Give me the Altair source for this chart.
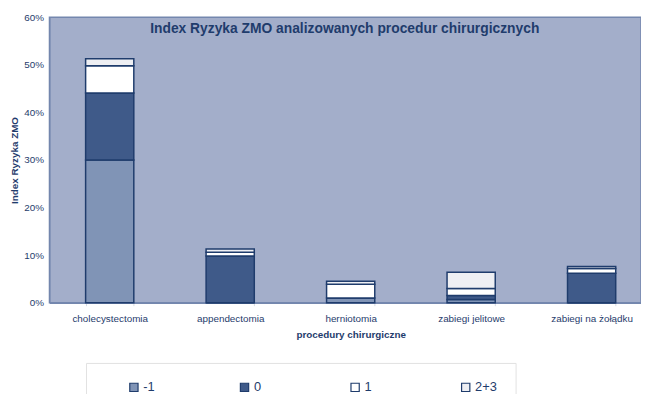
import altair as alt
import pandas as pd

procedures = ["cholecystectomia", "appendectomia", "herniotomia", "zabiegi jelitowe", "zabiegi na żołądku"]
series_names = ["-1", "0", "1", "2+3"]
v_m1 = [30.0, 0.0, 1.0, 0.7, 0.0]
v_0 = [14.1, 9.8, 0.0, 0.8, 6.2]
v_1 = [5.7, 0.8, 2.9, 1.5, 1.0]
v_23 = [1.5, 0.7, 0.6, 3.4, 0.4]
y_ticks = [0, 10, 20, 30, 40, 50, 60]

rows = []
for si, (name, vals) in enumerate(zip(series_names, [v_m1, v_0, v_1, v_23])):
    for p, v in zip(procedures, vals):
        rows.append({"procedura": p, "seria": name, "order": si, "value": v / 100})
df = pd.DataFrame(rows)

navy = "#1F3C6C"
font = "Liberation Sans"

bars = alt.Chart(df).mark_bar(stroke=navy, strokeWidth=1.5).encode(
    x=alt.X("procedura:N", sort=procedures,
            scale=alt.Scale(range=[0, 610], paddingInner=0.6, paddingOuter=0.3),
            axis=alt.Axis(title="procedury chirurgiczne", labelAngle=0, labelFontSize=10,
                          labelColor=navy, labelFont=font, labelPadding=8,
                          titleFontSize=10, titleColor=navy, titleFont=font, titleFontWeight="bold",
                          titlePadding=6, domainColor="#7487AE", domainWidth=1.5,
                          tickBand="extent", tickColor="#D5D9E3", tickSize=3)),
    y=alt.Y("value:Q", stack="zero",
            scale=alt.Scale(domain=[0, 0.6], nice=False),
            axis=alt.Axis(title="Index Ryzyka ZMO", format=".0%", values=[t / 100 for t in y_ticks],
                          grid=False, ticks=False, domain=True, domainColor="#7487AE",
                          labelFontSize=10, labelColor=navy, labelFont=font, labelPadding=6,
                          titleFontSize=10, titleColor=navy, titleFont=font, titleFontWeight="bold",
                          titlePadding=4)),
    color=alt.Color("seria:N", sort=series_names,
                    scale=alt.Scale(domain=series_names, range=["#8094B6", "#3F5A89", "#FFFFFF", "#EEEFF3"]),
                    legend=alt.Legend(title="\u00a0", titleOrient="left", titlePadding=24, titleFontSize=11,
                                      orient="none", direction="horizontal",
                                      legendX=37, legendY=350, gridAlign="all", columnPadding=72,
                                      symbolType="square", symbolSize=70, symbolStrokeColor=navy,
                                      symbolStrokeWidth=1.2, labelFontSize=13, labelColor=navy,
                                      labelFont=font, labelOffset=3, padding=18,
                                      fillColor="white", strokeColor="#E2E2E2")),
    order=alt.Order("order:Q"),
)

chart = bars.properties(
    width=599, height=289,
    autosize="none",
    padding={"left": 42, "top": 7, "right": 0, "bottom": 90},
    background="white",
    title=alt.TitleParams("Index Ryzyka ZMO analizowanych procedur chirurgicznych",
                          anchor="start", dx=142, dy=31, offset=0, baseline="middle",
                          fontSize=14, fontWeight="bold", color=navy, font=font),
).configure_view(fill="#A3AECA", stroke="#7487AE", strokeWidth=1.5)

chart.save("out.html", embed_options={"renderer": "svg", "actions": False})
